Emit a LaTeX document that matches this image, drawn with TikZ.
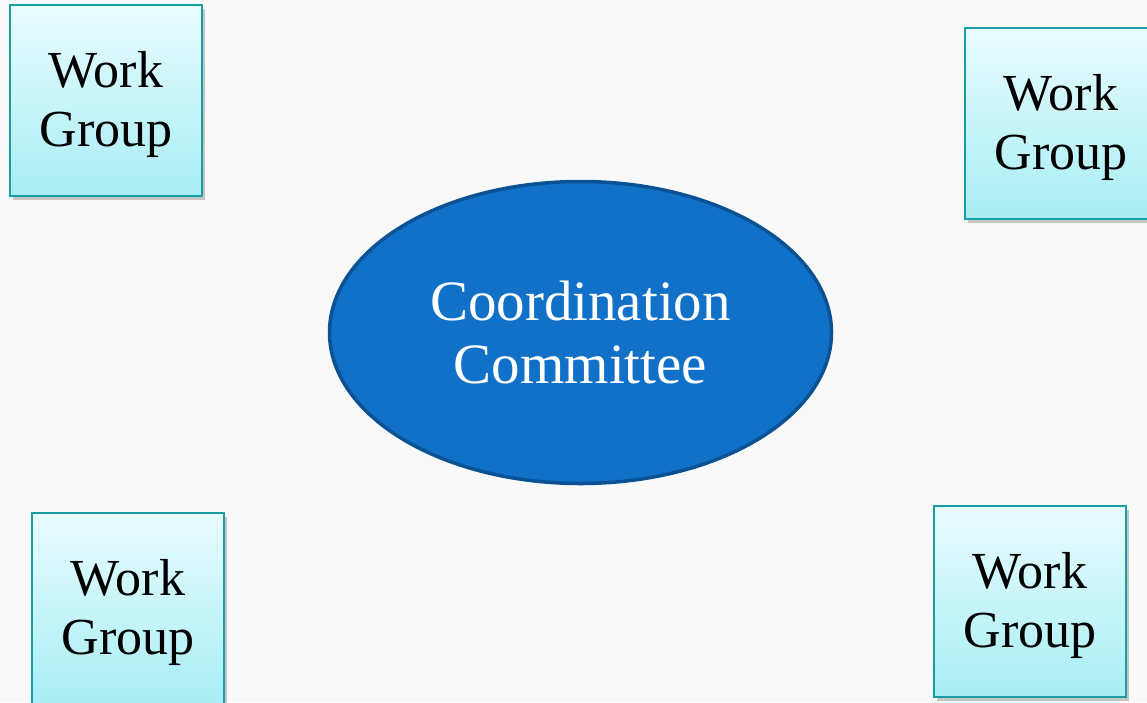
\documentclass[tikz,border=0pt]{standalone}
\usepackage{fontspec}
\setmainfont{Liberation Serif}
\usetikzlibrary{shadows,shapes.geometric}
\definecolor{bg}{HTML}{F9F9F9}
\definecolor{wgborder}{HTML}{1A9EA6}
\definecolor{wgtop}{HTML}{E8FCFE}
\definecolor{wgbot}{HTML}{A8EEF5}
\definecolor{ccfill}{HTML}{1170C8}
\definecolor{ccborder}{HTML}{0B5294}
\newcommand{\wgtext}{\raisebox{-5pt}[\height][\depth]{\setlength\tabcolsep{0pt}\begin{tabular}{c}Work\\Group\end{tabular}}}
\begin{document}
\begin{tikzpicture}[x=1pt,y=-1pt,
  wg/.style={draw=wgborder, line width=2pt, minimum width=192pt, minimum height=191pt,
    inner sep=0pt, top color=wgtop, bottom color=wgbot,
    drop shadow={shadow xshift=3pt, shadow yshift=-4pt, opacity=0.35, fill=black!60},
    font=\fontsize{52}{59}\selectfont, text=black},
  cc/.style={ellipse, draw=ccborder, line width=3.5pt, fill=ccfill, minimum width=502pt,
    minimum height=302pt, inner sep=0pt, text=white, align=center,
    font=\fontsize{57}{63}\selectfont}]
\useasboundingbox (0,0) rectangle (1147,702);
\clip (0,0) rectangle (1147,702);
\fill[bg] (0,0) rectangle (1147,702);
\node[wg] (tl) at (106,100.5) {\wgtext};
\node[wg] (tr) at (1061,123.5) {\wgtext};
\node[wg] (bl) at (128,608.5) {\wgtext};
\node[wg] (br) at (1030,601.5) {\wgtext};
\node[cc] (cc) at (580.5,332.5) {Coordination\\Committee};
\end{tikzpicture}
\end{document}
